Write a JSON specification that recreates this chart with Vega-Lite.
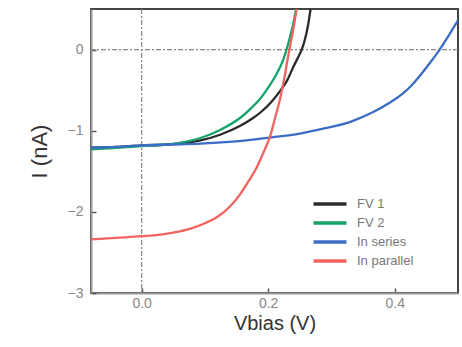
{
  "$schema": "https://vega.github.io/schema/vega-lite/v6.json",
  "autosize": {"type": "none"},
  "width": 367,
  "height": 284,
  "padding": {"left": 91, "top": 9, "right": 4, "bottom": 54},
  "background": "white",
  "config": {
    "view": {"stroke": "#444", "strokeWidth": 2},
    "font": "Liberation Sans",
    "axis": {
      "grid": false,
      "domainColor": "#999",
      "domainWidth": 2,
      "tickColor": "#555",
      "tickWidth": 1.5,
      "tickSize": -5,
      "labelFont": "Liberation Sans",
      "labelFontSize": 14,
      "labelColor": "#888",
      "titleFont": "Liberation Sans",
      "titleFontWeight": "normal",
      "titleColor": "#333"
    }
  },
  "datasets": {
    "curves": [
      {"V": -0.08, "I": -1.21, "series": "FV 1"},
      {"V": -0.04, "I": -1.20, "series": "FV 1"},
      {"V": 0.0, "I": -1.18, "series": "FV 1"},
      {"V": 0.04, "I": -1.17, "series": "FV 1"},
      {"V": 0.07, "I": -1.15, "series": "FV 1"},
      {"V": 0.093, "I": -1.12, "series": "FV 1"},
      {"V": 0.124, "I": -1.05, "series": "FV 1"},
      {"V": 0.156, "I": -0.94, "series": "FV 1"},
      {"V": 0.175, "I": -0.85, "series": "FV 1"},
      {"V": 0.19, "I": -0.76, "series": "FV 1"},
      {"V": 0.205, "I": -0.645, "series": "FV 1"},
      {"V": 0.219, "I": -0.51, "series": "FV 1"},
      {"V": 0.23, "I": -0.38, "series": "FV 1"},
      {"V": 0.24, "I": -0.21, "series": "FV 1"},
      {"V": 0.247, "I": -0.10, "series": "FV 1"},
      {"V": 0.253, "I": 0.0, "series": "FV 1"},
      {"V": 0.258, "I": 0.12, "series": "FV 1"},
      {"V": 0.263, "I": 0.30, "series": "FV 1"},
      {"V": 0.267, "I": 0.5, "series": "FV 1"},

      {"V": -0.08, "I": -1.23, "series": "FV 2"},
      {"V": -0.04, "I": -1.21, "series": "FV 2"},
      {"V": 0.0, "I": -1.19, "series": "FV 2"},
      {"V": 0.04, "I": -1.17, "series": "FV 2"},
      {"V": 0.06, "I": -1.15, "series": "FV 2"},
      {"V": 0.093, "I": -1.09, "series": "FV 2"},
      {"V": 0.124, "I": -0.99, "series": "FV 2"},
      {"V": 0.156, "I": -0.84, "series": "FV 2"},
      {"V": 0.172, "I": -0.73, "series": "FV 2"},
      {"V": 0.187, "I": -0.61, "series": "FV 2"},
      {"V": 0.2, "I": -0.47, "series": "FV 2"},
      {"V": 0.212, "I": -0.32, "series": "FV 2"},
      {"V": 0.224, "I": -0.12, "series": "FV 2"},
      {"V": 0.229, "I": 0.0, "series": "FV 2"},
      {"V": 0.235, "I": 0.17, "series": "FV 2"},
      {"V": 0.24, "I": 0.33, "series": "FV 2"},
      {"V": 0.244, "I": 0.5, "series": "FV 2"},

      {"V": -0.08, "I": -1.21, "series": "In series"},
      {"V": -0.04, "I": -1.20, "series": "In series"},
      {"V": 0.0, "I": -1.18, "series": "In series"},
      {"V": 0.05, "I": -1.17, "series": "In series"},
      {"V": 0.093, "I": -1.16, "series": "In series"},
      {"V": 0.166, "I": -1.12, "series": "In series"},
      {"V": 0.203, "I": -1.085, "series": "In series"},
      {"V": 0.25, "I": -1.035, "series": "In series"},
      {"V": 0.287, "I": -0.975, "series": "In series"},
      {"V": 0.33, "I": -0.89, "series": "In series"},
      {"V": 0.366, "I": -0.77, "series": "In series"},
      {"V": 0.39, "I": -0.665, "series": "In series"},
      {"V": 0.413, "I": -0.54, "series": "In series"},
      {"V": 0.428, "I": -0.43, "series": "In series"},
      {"V": 0.442, "I": -0.30, "series": "In series"},
      {"V": 0.457, "I": -0.15, "series": "In series"},
      {"V": 0.471, "I": 0.0, "series": "In series"},
      {"V": 0.485, "I": 0.17, "series": "In series"},
      {"V": 0.5, "I": 0.36, "series": "In series"},

      {"V": -0.08, "I": -2.34, "series": "In parallel"},
      {"V": -0.04, "I": -2.32, "series": "In parallel"},
      {"V": 0.0, "I": -2.30, "series": "In parallel"},
      {"V": 0.03, "I": -2.28, "series": "In parallel"},
      {"V": 0.06, "I": -2.24, "series": "In parallel"},
      {"V": 0.08, "I": -2.20, "series": "In parallel"},
      {"V": 0.10, "I": -2.14, "series": "In parallel"},
      {"V": 0.12, "I": -2.06, "series": "In parallel"},
      {"V": 0.14, "I": -1.93, "series": "In parallel"},
      {"V": 0.155, "I": -1.79, "series": "In parallel"},
      {"V": 0.17, "I": -1.61, "series": "In parallel"},
      {"V": 0.182, "I": -1.45, "series": "In parallel"},
      {"V": 0.193, "I": -1.26, "series": "In parallel"},
      {"V": 0.203, "I": -1.07, "series": "In parallel"},
      {"V": 0.211, "I": -0.84, "series": "In parallel"},
      {"V": 0.219, "I": -0.60, "series": "In parallel"},
      {"V": 0.226, "I": -0.33, "series": "In parallel"},
      {"V": 0.232, "I": -0.06, "series": "In parallel"},
      {"V": 0.239, "I": 0.22, "series": "In parallel"},
      {"V": 0.245, "I": 0.5, "series": "In parallel"}
    ]
  },
  "layer": [
    {
      "data": {"values": [{"V": 0}]},
      "mark": {"type": "rule", "color": "#888", "strokeWidth": 1.2, "strokeDash": [5, 2, 2, 2]},
      "encoding": {
        "x": {"field": "V", "type": "quantitative", "scale": {"domain": [-0.08, 0.5]}}
      }
    },
    {
      "data": {"values": [{"I": 0}]},
      "mark": {"type": "rule", "color": "#888", "strokeWidth": 1.2, "strokeDash": [5, 2, 2, 2]},
      "encoding": {
        "y": {"field": "I", "type": "quantitative", "scale": {"domain": [-3, 0.5]}}
      }
    },
    {
      "data": {"name": "curves"},
      "mark": {"type": "line", "strokeWidth": 2.3, "clip": true, "interpolate": "monotone"},
      "encoding": {
        "x": {
          "field": "V",
          "type": "quantitative",
          "scale": {"domain": [-0.08, 0.5], "nice": false, "zero": false},
          "axis": {
            "values": [0, 0.2, 0.4],
            "format": ".1f",
            "labelPadding": 8,
            "title": "Vbias (V)",
            "titleFontSize": 20,
            "titlePadding": 3
          }
        },
        "y": {
          "field": "I",
          "type": "quantitative",
          "scale": {"domain": [-3, 0.5], "nice": false, "zero": false},
          "axis": {
            "values": [-3, -2, -1, 0],
            "format": "d",
            "labelPadding": 13,
            "title": "I (nA)",
            "titleFontSize": 22,
            "titlePadding": 16
          }
        },
        "color": {
          "field": "series",
          "type": "nominal",
          "sort": ["FV 1", "FV 2", "In series", "In parallel"],
          "scale": {
            "domain": ["FV 1", "FV 2", "In series", "In parallel"],
            "range": ["#2b2b2b", "#16a36a", "#3b6cc6", "#f2635f"]
          },
          "legend": {
            "title": null,
            "orient": "none",
            "legendX": 229,
            "legendY": 185,
            "symbolType": "M-2,0H2",
            "symbolSize": 272,
            "symbolStrokeWidth": 3.5,
            "labelFont": "Liberation Sans",
            "labelFontSize": 13,
            "labelColor": "#777",
            "labelOffset": 17,
            "rowPadding": 2,
            "padding": 0
          }
        },
        "order": {"field": "V", "type": "quantitative"}
      }
    }
  ]
}
